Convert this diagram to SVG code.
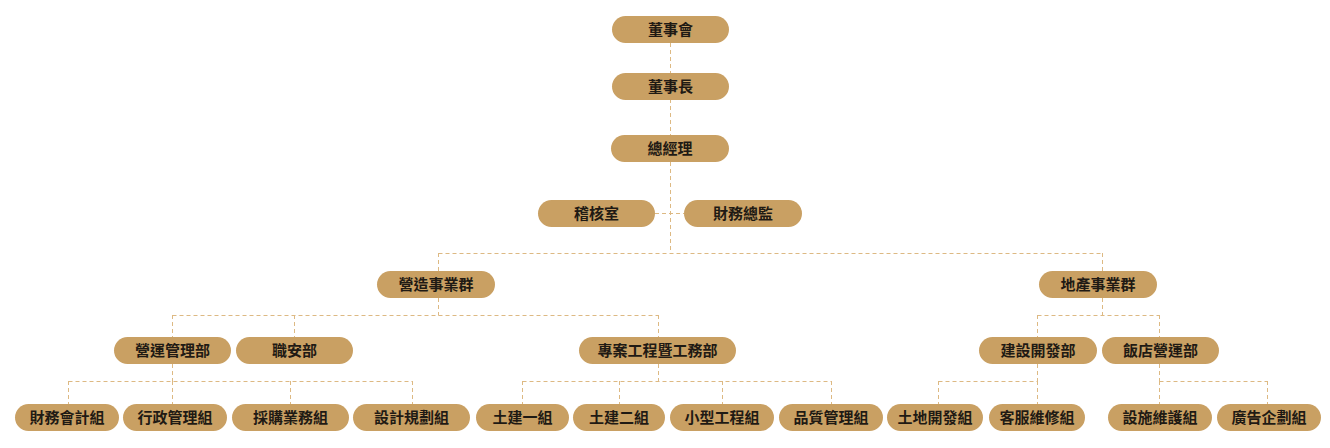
<svg xmlns="http://www.w3.org/2000/svg" width="1330" height="448" viewBox="0 0 1330 448">
<style>
.n rect{fill:#C9A063;}
.n text{font-family:"Noto Sans CJK TC","Noto Sans CJK SC",sans-serif;font-size:15px;font-weight:700;fill:#1f1a14;text-anchor:middle;}
#connectors path{fill:none;stroke:#DDB983;stroke-width:1;stroke-dasharray:4 3;}
</style>
<rect width="1330" height="448" fill="#ffffff"/>
<g id="connectors">
<path d="M670.5 43V253"/>
<path d="M655 213.5H684"/>
<path d="M438.5 253.5H1102.5M438.5 253V271M1102.5 253V271"/>
<path d="M438.5 298V315.5M172.5 315.5H658.5M172.5 315V337M294.5 315V337M658.5 315V337"/>
<path d="M172.5 364V381.5M68.5 381.5H412.5M68.5 381V404M172.5 381V404M290.5 381V404M412.5 381V404"/>
<path d="M658.5 364V381.5M522.5 381.5H831.5M522.5 381V404M619.5 381V404M722.5 381V404M831.5 381V404"/>
<path d="M1102.5 298V315.5M1037.5 315.5H1159.5M1037.5 315V337M1159.5 315V337"/>
<path d="M1037.5 364V381.5M938.5 381.5H1037.5M938.5 381V404M1037.5 381V404"/>
<path d="M1159.5 364V381.5M1159.5 381.5H1267.5M1159.5 381V404M1267.5 381V404"/>
</g>
<g id="n-board" class="n"><rect x="612" y="16" width="117" height="27" rx="13.5"/><text x="670.5" y="34.8">董事會</text></g>
<g id="n-chairman" class="n"><rect x="612" y="73" width="117" height="27" rx="13.5"/><text x="670.5" y="91.8">董事長</text></g>
<g id="n-gm" class="n"><rect x="611" y="135" width="118" height="27" rx="13.5"/><text x="670" y="153.8">總經理</text></g>
<g id="n-audit" class="n"><rect x="538" y="200" width="117" height="27" rx="13.5"/><text x="596.5" y="218.8">稽核室</text></g>
<g id="n-cfo" class="n"><rect x="684" y="200" width="118" height="27" rx="13.5"/><text x="743" y="218.8">財務總監</text></g>
<g id="n-construction" class="n"><rect x="377" y="271" width="118" height="27" rx="13.5"/><text x="436" y="289.8">營造事業群</text></g>
<g id="n-realestate" class="n"><rect x="1039" y="271" width="118" height="27" rx="13.5"/><text x="1098" y="289.8">地產事業群</text></g>
<g id="n-ops" class="n"><rect x="114" y="337" width="117" height="27" rx="13.5"/><text x="172.5" y="355.8">營運管理部</text></g>
<g id="n-safety" class="n"><rect x="236" y="337" width="117" height="27" rx="13.5"/><text x="294.5" y="355.8">職安部</text></g>
<g id="n-project" class="n"><rect x="579" y="337" width="157" height="27" rx="13.5"/><text x="657.5" y="355.8">專案工程暨工務部</text></g>
<g id="n-devdept" class="n"><rect x="979" y="337" width="118" height="27" rx="13.5"/><text x="1038" y="355.8">建設開發部</text></g>
<g id="n-hotel" class="n"><rect x="1102" y="337" width="117" height="27" rx="13.5"/><text x="1160.5" y="355.8">飯店營運部</text></g>
<g id="n-acct" class="n"><rect x="15" y="404" width="104" height="27" rx="13.5"/><text x="67" y="422.8">財務會計組</text></g>
<g id="n-admin" class="n"><rect x="123" y="404" width="104" height="27" rx="13.5"/><text x="175" y="422.8">行政管理組</text></g>
<g id="n-purchase" class="n"><rect x="232" y="404" width="117" height="27" rx="13.5"/><text x="290.5" y="422.8">採購業務組</text></g>
<g id="n-design" class="n"><rect x="353" y="404" width="117" height="27" rx="13.5"/><text x="411.5" y="422.8">設計規劃組</text></g>
<g id="n-civil1" class="n"><rect x="476" y="404" width="93" height="27" rx="13.5"/><text x="522.5" y="422.8">土建一組</text></g>
<g id="n-civil2" class="n"><rect x="573" y="404" width="92" height="27" rx="13.5"/><text x="619" y="422.8">土建二組</text></g>
<g id="n-small" class="n"><rect x="670" y="404" width="104" height="27" rx="13.5"/><text x="722" y="422.8">小型工程組</text></g>
<g id="n-quality" class="n"><rect x="779" y="404" width="104" height="27" rx="13.5"/><text x="831" y="422.8">品質管理組</text></g>
<g id="n-land" class="n"><rect x="887" y="404" width="96" height="27" rx="13.5"/><text x="935" y="422.8">土地開發組</text></g>
<g id="n-service" class="n"><rect x="989" y="404" width="96" height="27" rx="13.5"/><text x="1037" y="422.8">客服維修組</text></g>
<g id="n-facility" class="n"><rect x="1108" y="404" width="104" height="27" rx="13.5"/><text x="1160" y="422.8">設施維護組</text></g>
<g id="n-ad" class="n"><rect x="1217" y="404" width="104" height="27" rx="13.5"/><text x="1269" y="422.8">廣告企劃組</text></g>
</svg>
